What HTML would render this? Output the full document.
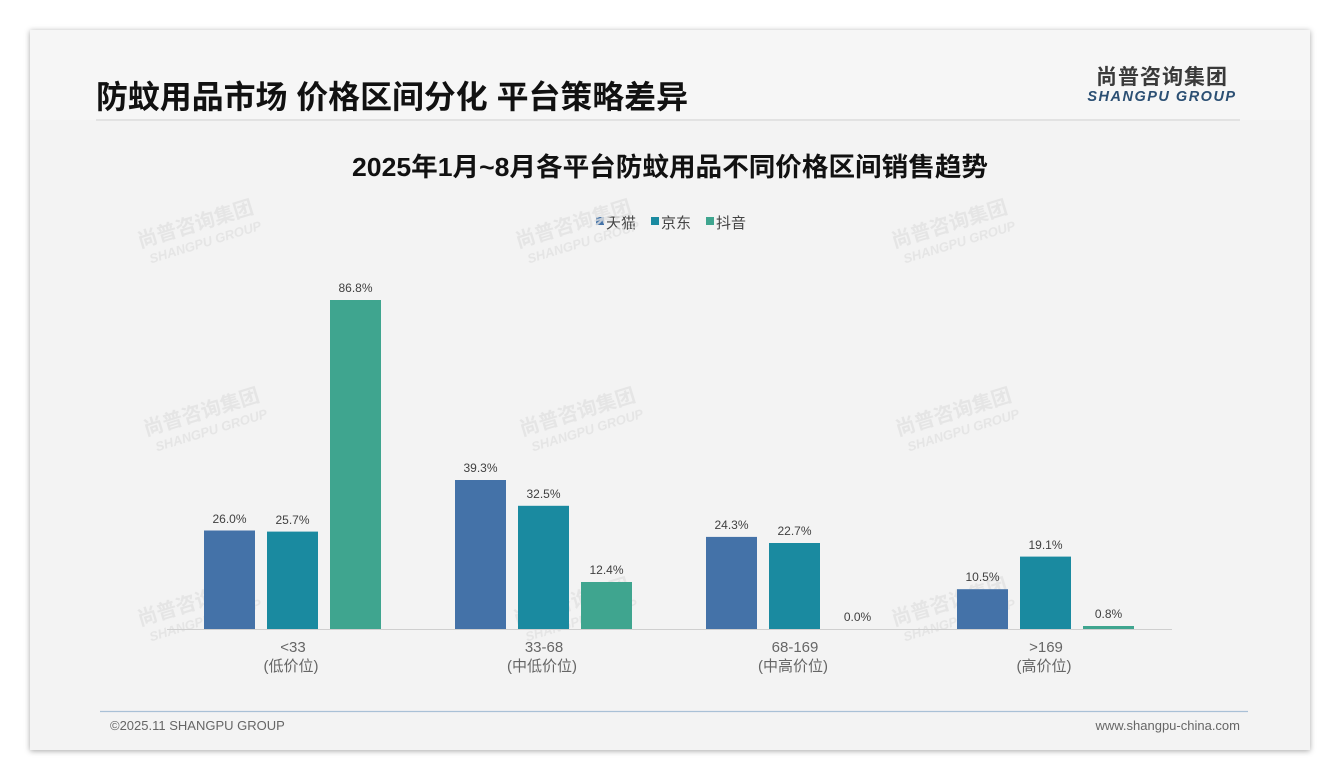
<!DOCTYPE html>
<html><head><meta charset="utf-8"><style>
body{margin:0;width:1340px;height:780px;background:#fff;overflow:hidden}
</style></head><body>
<svg width="1340" height="780" xmlns="http://www.w3.org/2000/svg" style="position:absolute;left:0;top:0">
<defs><filter id="sh" x="-5%" y="-5%" width="110%" height="110%"><feDropShadow dx="0" dy="1" stdDeviation="3" flood-color="#000" flood-opacity="0.35"/></filter></defs>
<rect x="30" y="30" width="1280" height="720" fill="#f3f3f3" filter="url(#sh)"/>
<rect x="30" y="30" width="1280" height="90" fill="#f6f6f6"/>
<g font-family="'Liberation Sans','Noto Sans CJK SC',sans-serif">
<text x="96" y="108" font-size="32" font-weight="bold" fill="#111" textLength="592" lengthAdjust="spacingAndGlyphs">防蚊用品市场 价格区间分化 平台策略差异</text>
<line x1="96" y1="120" x2="1240" y2="120" stroke="#dcdcdc" stroke-width="1.5"/>
<text x="1162" y="84" font-size="21" font-weight="bold" fill="#3a3a3a" text-anchor="middle" letter-spacing="1">尚普咨询集团</text>
<text x="1162" y="101" font-size="14.5" font-weight="bold" font-style="italic" fill="#2b4f73" text-anchor="middle" letter-spacing="1.5">SHANGPU GROUP</text>
<text x="352" y="176" font-size="26" font-weight="bold" fill="#111" textLength="636" lengthAdjust="spacingAndGlyphs">2025年1月~8月各平台防蚊用品不同价格区间销售趋势</text>
<g font-size="15" fill="#444">
<rect x="596" y="217" width="8" height="8" fill="#4472a8"/><text x="606" y="228">天猫</text>
<rect x="651" y="217" width="8" height="8" fill="#1a8aa0"/><text x="661" y="228">京东</text>
<rect x="706" y="217" width="8" height="8" fill="#3fa58f"/><text x="716" y="228">抖音</text>
</g>
<g fill="#e2e2e2" font-size="20" font-weight="bold" opacity="0.8">
<g transform="translate(140,248) rotate(-17)"><text>尚普咨询集团</text><text x="6" y="18" font-size="13" font-style="italic">SHANGPU GROUP</text></g>
<g transform="translate(518,248) rotate(-17)"><text>尚普咨询集团</text><text x="6" y="18" font-size="13" font-style="italic">SHANGPU GROUP</text></g>
<g transform="translate(894,248) rotate(-17)"><text>尚普咨询集团</text><text x="6" y="18" font-size="13" font-style="italic">SHANGPU GROUP</text></g>
<g transform="translate(146,436) rotate(-17)"><text>尚普咨询集团</text><text x="6" y="18" font-size="13" font-style="italic">SHANGPU GROUP</text></g>
<g transform="translate(522,436) rotate(-17)"><text>尚普咨询集团</text><text x="6" y="18" font-size="13" font-style="italic">SHANGPU GROUP</text></g>
<g transform="translate(898,436) rotate(-17)"><text>尚普咨询集团</text><text x="6" y="18" font-size="13" font-style="italic">SHANGPU GROUP</text></g>
<g transform="translate(140,626) rotate(-17)"><text>尚普咨询集团</text><text x="6" y="18" font-size="13" font-style="italic">SHANGPU GROUP</text></g>
<g transform="translate(516,626) rotate(-17)"><text>尚普咨询集团</text><text x="6" y="18" font-size="13" font-style="italic">SHANGPU GROUP</text></g>
<g transform="translate(894,626) rotate(-17)"><text>尚普咨询集团</text><text x="6" y="18" font-size="13" font-style="italic">SHANGPU GROUP</text></g>
</g>
<line x1="167" y1="629.5" x2="1172" y2="629.5" stroke="#cfcfcf" stroke-width="1"/>
<g>
<rect x="204" y="530.5" width="51" height="98.5" fill="#4472a8"/>
<rect x="267" y="531.6" width="51" height="97.4" fill="#1a8aa0"/>
<rect x="330" y="300" width="51" height="329" fill="#3fa58f"/>
<rect x="455" y="480" width="51" height="149" fill="#4472a8"/>
<rect x="518" y="505.8" width="51" height="123.2" fill="#1a8aa0"/>
<rect x="581" y="582" width="51" height="47" fill="#3fa58f"/>
<rect x="706" y="536.9" width="51" height="92.1" fill="#4472a8"/>
<rect x="769" y="543" width="51" height="86" fill="#1a8aa0"/>
<rect x="957" y="589.2" width="51" height="39.8" fill="#4472a8"/>
<rect x="1020" y="556.6" width="51" height="72.4" fill="#1a8aa0"/>
<rect x="1083" y="626" width="51" height="3" fill="#3fa58f"/>
</g>
<g font-size="12" fill="#404040" text-anchor="middle">
<text x="229.5" y="523">26.0%</text><text x="292.5" y="524">25.7%</text><text x="355.5" y="292">86.8%</text>
<text x="480.5" y="472">39.3%</text><text x="543.5" y="498">32.5%</text><text x="606.5" y="574">12.4%</text>
<text x="731.5" y="529">24.3%</text><text x="794.5" y="535">22.7%</text><text x="857.5" y="621">0.0%</text>
<text x="982.5" y="581">10.5%</text><text x="1045.5" y="549">19.1%</text><text x="1108.5" y="618">0.8%</text>
</g>
<g font-size="15" fill="#666" text-anchor="middle">
<text x="293" y="652">&lt;33</text><text x="291" y="671">(低价位)</text>
<text x="544" y="652">33-68</text><text x="542" y="671">(中低价位)</text>
<text x="795" y="652">68-169</text><text x="793" y="671">(中高价位)</text>
<text x="1046" y="652">&gt;169</text><text x="1044" y="671">(高价位)</text>
</g>
<line x1="100" y1="711.5" x2="1248" y2="711.5" stroke="#a9c0d6" stroke-width="1.2"/>
<text x="110" y="730" font-size="13" fill="#666">©2025.11 SHANGPU GROUP</text>
<text x="1240" y="730" font-size="13" fill="#666" text-anchor="end">www.shangpu-china.com</text>
</g>
</svg>
</body></html>
